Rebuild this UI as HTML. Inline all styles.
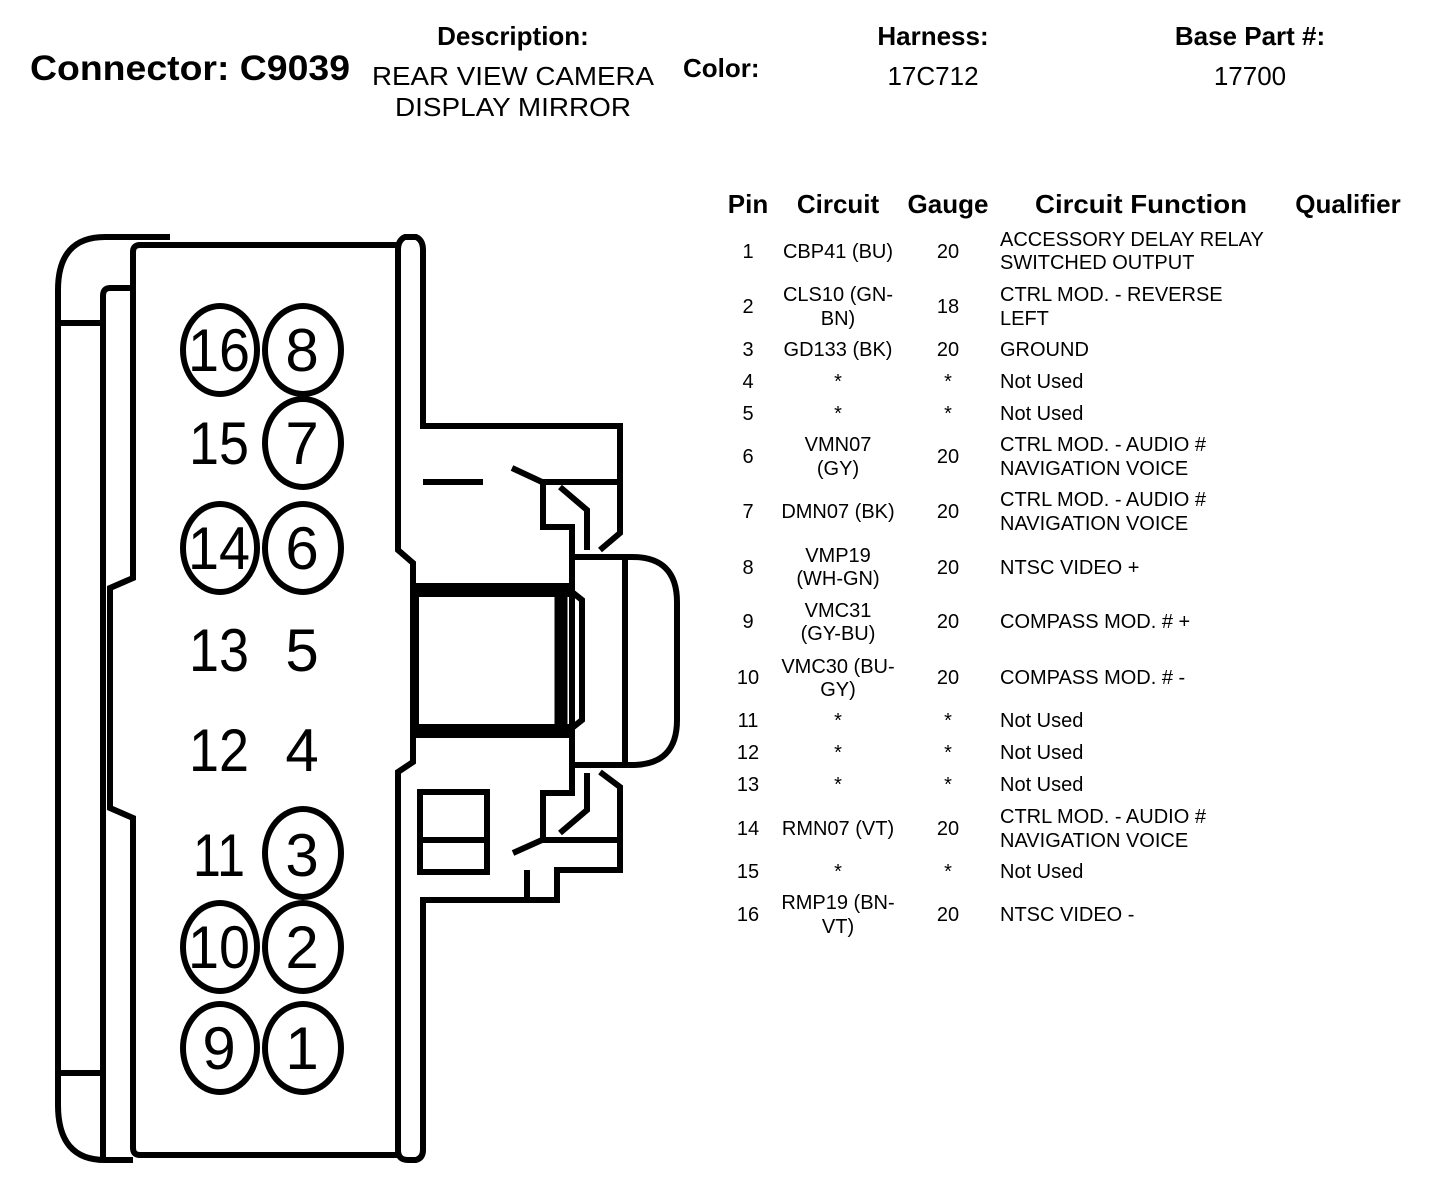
<!DOCTYPE html>
<html><head><meta charset="utf-8"><style>
html,body{margin:0;padding:0;background:#fff;}
svg{display:block;}
text{font-family:"Liberation Sans",Arial,sans-serif;fill:#000;}
.h{font-weight:bold;font-size:26px;}
.b{font-size:20px;}
.p{font-size:60px;}
</style></head><body>
<svg width="1440" height="1204" viewBox="0 0 1440 1204" xmlns="http://www.w3.org/2000/svg">
<!-- header -->
<text x="30" y="80" style="font-weight:bold;font-size:35px" textLength="320" lengthAdjust="spacingAndGlyphs">Connector: C9039</text>
<text x="513" y="45" class="h" text-anchor="middle">Description:</text>
<text x="513" y="85" style="font-size:26px" text-anchor="middle" textLength="282" lengthAdjust="spacingAndGlyphs">REAR VIEW CAMERA</text>
<text x="513" y="116" style="font-size:26px" text-anchor="middle" textLength="236" lengthAdjust="spacingAndGlyphs">DISPLAY MIRROR</text>
<text x="683" y="77" class="h">Color:</text>
<text x="933" y="45" class="h" text-anchor="middle">Harness:</text>
<text x="933" y="85" style="font-size:26px" text-anchor="middle">17C712</text>
<text x="1250" y="45" class="h" text-anchor="middle">Base Part #:</text>
<text x="1250" y="85" style="font-size:26px" text-anchor="middle">17700</text>

<!-- table header -->
<g class="h" text-anchor="middle">
<text x="748" y="213" class="h">Pin</text>
<text x="838" y="213" class="h">Circuit</text>
<text x="948" y="213" class="h">Gauge</text>
<text x="1141" y="213" class="h" textLength="212" lengthAdjust="spacingAndGlyphs">Circuit Function</text>
<text x="1348" y="213" class="h">Qualifier</text>
</g>
<g class="b">
<g text-anchor="middle">
<text x="748" y="258">1</text><text x="838" y="258">CBP41 (BU)</text><text x="948" y="258">20</text>
<text x="748" y="313">2</text><text x="838" y="301">CLS10 (GN-</text><text x="838" y="325">BN)</text><text x="948" y="313">18</text>
<text x="748" y="356">3</text><text x="838" y="356">GD133 (BK)</text><text x="948" y="356">20</text>
<text x="748" y="388">4</text><text x="838" y="388">*</text><text x="948" y="388">*</text>
<text x="748" y="420">5</text><text x="838" y="420">*</text><text x="948" y="420">*</text>
<text x="748" y="463">6</text><text x="838" y="451">VMN07</text><text x="838" y="475">(GY)</text><text x="948" y="463">20</text>
<text x="748" y="518">7</text><text x="838" y="518">DMN07 (BK)</text><text x="948" y="518">20</text>
<text x="748" y="574">8</text><text x="838" y="562">VMP19</text><text x="838" y="585">(WH-GN)</text><text x="948" y="574">20</text>
<text x="748" y="628">9</text><text x="838" y="617">VMC31</text><text x="838" y="640">(GY-BU)</text><text x="948" y="628">20</text>
<text x="748" y="684">10</text><text x="838" y="673">VMC30 (BU-</text><text x="838" y="696">GY)</text><text x="948" y="684">20</text>
<text x="748" y="727">11</text><text x="838" y="727">*</text><text x="948" y="727">*</text>
<text x="748" y="759">12</text><text x="838" y="759">*</text><text x="948" y="759">*</text>
<text x="748" y="791">13</text><text x="838" y="791">*</text><text x="948" y="791">*</text>
<text x="748" y="835">14</text><text x="838" y="835">RMN07 (VT)</text><text x="948" y="835">20</text>
<text x="748" y="878">15</text><text x="838" y="878">*</text><text x="948" y="878">*</text>
<text x="748" y="921">16</text><text x="838" y="909">RMP19 (BN-</text><text x="838" y="933">VT)</text><text x="948" y="921">20</text>
</g>
<text x="1000" y="246">ACCESSORY DELAY RELAY</text><text x="1000" y="269">SWITCHED OUTPUT</text>
<text x="1000" y="301">CTRL MOD. - REVERSE</text><text x="1000" y="325">LEFT</text>
<text x="1000" y="356">GROUND</text>
<text x="1000" y="388">Not Used</text>
<text x="1000" y="420">Not Used</text>
<text x="1000" y="451">CTRL MOD. - AUDIO #</text><text x="1000" y="475">NAVIGATION VOICE</text>
<text x="1000" y="506">CTRL MOD. - AUDIO #</text><text x="1000" y="530">NAVIGATION VOICE</text>
<text x="1000" y="574">NTSC VIDEO +</text>
<text x="1000" y="628">COMPASS MOD. # +</text>
<text x="1000" y="684">COMPASS MOD. # -</text>
<text x="1000" y="727">Not Used</text>
<text x="1000" y="759">Not Used</text>
<text x="1000" y="791">Not Used</text>
<text x="1000" y="823">CTRL MOD. - AUDIO #</text><text x="1000" y="847">NAVIGATION VOICE</text>
<text x="1000" y="878">Not Used</text>
<text x="1000" y="921">NTSC VIDEO -</text>
</g>

<!-- connector drawing -->
<g fill="none" stroke="#000" stroke-width="6" stroke-linejoin="miter">
<path d="M170,237 L105,237 Q58,237 58,290 L58,1105 Q58,1160 105,1160 L133,1160"/>
<line x1="58" y1="323" x2="103" y2="323"/>
<line x1="58" y1="1073" x2="103" y2="1073"/>
<path d="M133,288 L110,288 Q103,288 103,296 L103,1158"/>
<path d="M398,245 L140,245 Q133,245 133,252 L133,578 L110,588 L110,808 L133,818 L133,1148 Q133,1155 140,1155 L398,1155"/>
<path d="M398,250 Q398,240 405,237 L416,237 Q423,240 423,250 L423,426 L620,426 L620,533 L600,550"/>
<path d="M398,250 L398,550 L413,563 L413,762 L398,772 L398,1150 Q398,1160 408,1160 L416,1160 Q423,1158 423,1150 L423,900 L557,900 L557,870 L620,870 L620,787 L600,772"/>
<line x1="423" y1="482" x2="483" y2="482"/>
<path d="M512,468 L542,482 L620,482"/>
<path d="M543,482 L543,527 L572,527 L572,557"/>
<path d="M560,487 L587,510 L587,550"/>
<path d="M513,853 L542,840 L620,840"/>
<path d="M543,840 L543,793 L572,793 L572,765"/>
<path d="M560,833 L587,810 L587,773"/>
<path d="M527,870 L527,900"/>
<rect x="420" y="792" width="67" height="80"/>
<line x1="420" y1="840" x2="487" y2="840"/>
<path d="M572,557 L632,557 Q677,557 677,602 L677,720 Q677,765 632,765 L572,765 Z"/>
<line x1="625" y1="557" x2="625" y2="765"/>
<rect x="416" y="590" width="156" height="142"/>
<line x1="413" y1="590" x2="572" y2="590" stroke-width="14"/>
<line x1="413" y1="731" x2="572" y2="731" stroke-width="14"/>
<line x1="561" y1="583" x2="561" y2="738" stroke-width="13"/>
<path d="M572,592 L582,600 L582,720 L572,728"/>
</g>

<g fill="none" stroke="#000" stroke-width="6">
<ellipse cx="220" cy="350" rx="37" ry="44"/><ellipse cx="303" cy="350" rx="38" ry="44"/>
<ellipse cx="303" cy="443" rx="38" ry="44"/>
<ellipse cx="220" cy="548" rx="37" ry="44"/><ellipse cx="303" cy="548" rx="38" ry="44"/>
<ellipse cx="303" cy="853" rx="38" ry="44"/>
<ellipse cx="220" cy="947" rx="37" ry="44"/><ellipse cx="303" cy="947" rx="38" ry="44"/>
<ellipse cx="220" cy="1048" rx="37" ry="44"/><ellipse cx="303" cy="1048" rx="38" ry="44"/>
</g>
<g class="p" text-anchor="middle">
<text x="219" y="371" class="p" textLength="62" lengthAdjust="spacingAndGlyphs">16</text><text x="302" y="371" class="p">8</text>
<text x="219" y="464" class="p" textLength="60" lengthAdjust="spacingAndGlyphs">15</text><text x="302" y="464" class="p">7</text>
<text x="219" y="569" class="p" textLength="62" lengthAdjust="spacingAndGlyphs">14</text><text x="302" y="569" class="p">6</text>
<text x="219" y="671" class="p" textLength="60" lengthAdjust="spacingAndGlyphs">13</text><text x="302" y="671" class="p">5</text>
<text x="219" y="771" class="p" textLength="60" lengthAdjust="spacingAndGlyphs">12</text><text x="302" y="771" class="p">4</text>
<text x="219" y="876" class="p" textLength="52" lengthAdjust="spacingAndGlyphs">11</text><text x="302" y="876" class="p">3</text>
<text x="219" y="968" class="p" textLength="62" lengthAdjust="spacingAndGlyphs">10</text><text x="302" y="968" class="p">2</text>
<text x="219" y="1069" class="p">9</text><text x="302" y="1069" class="p">1</text>
</g>
</svg>
</body></html>
